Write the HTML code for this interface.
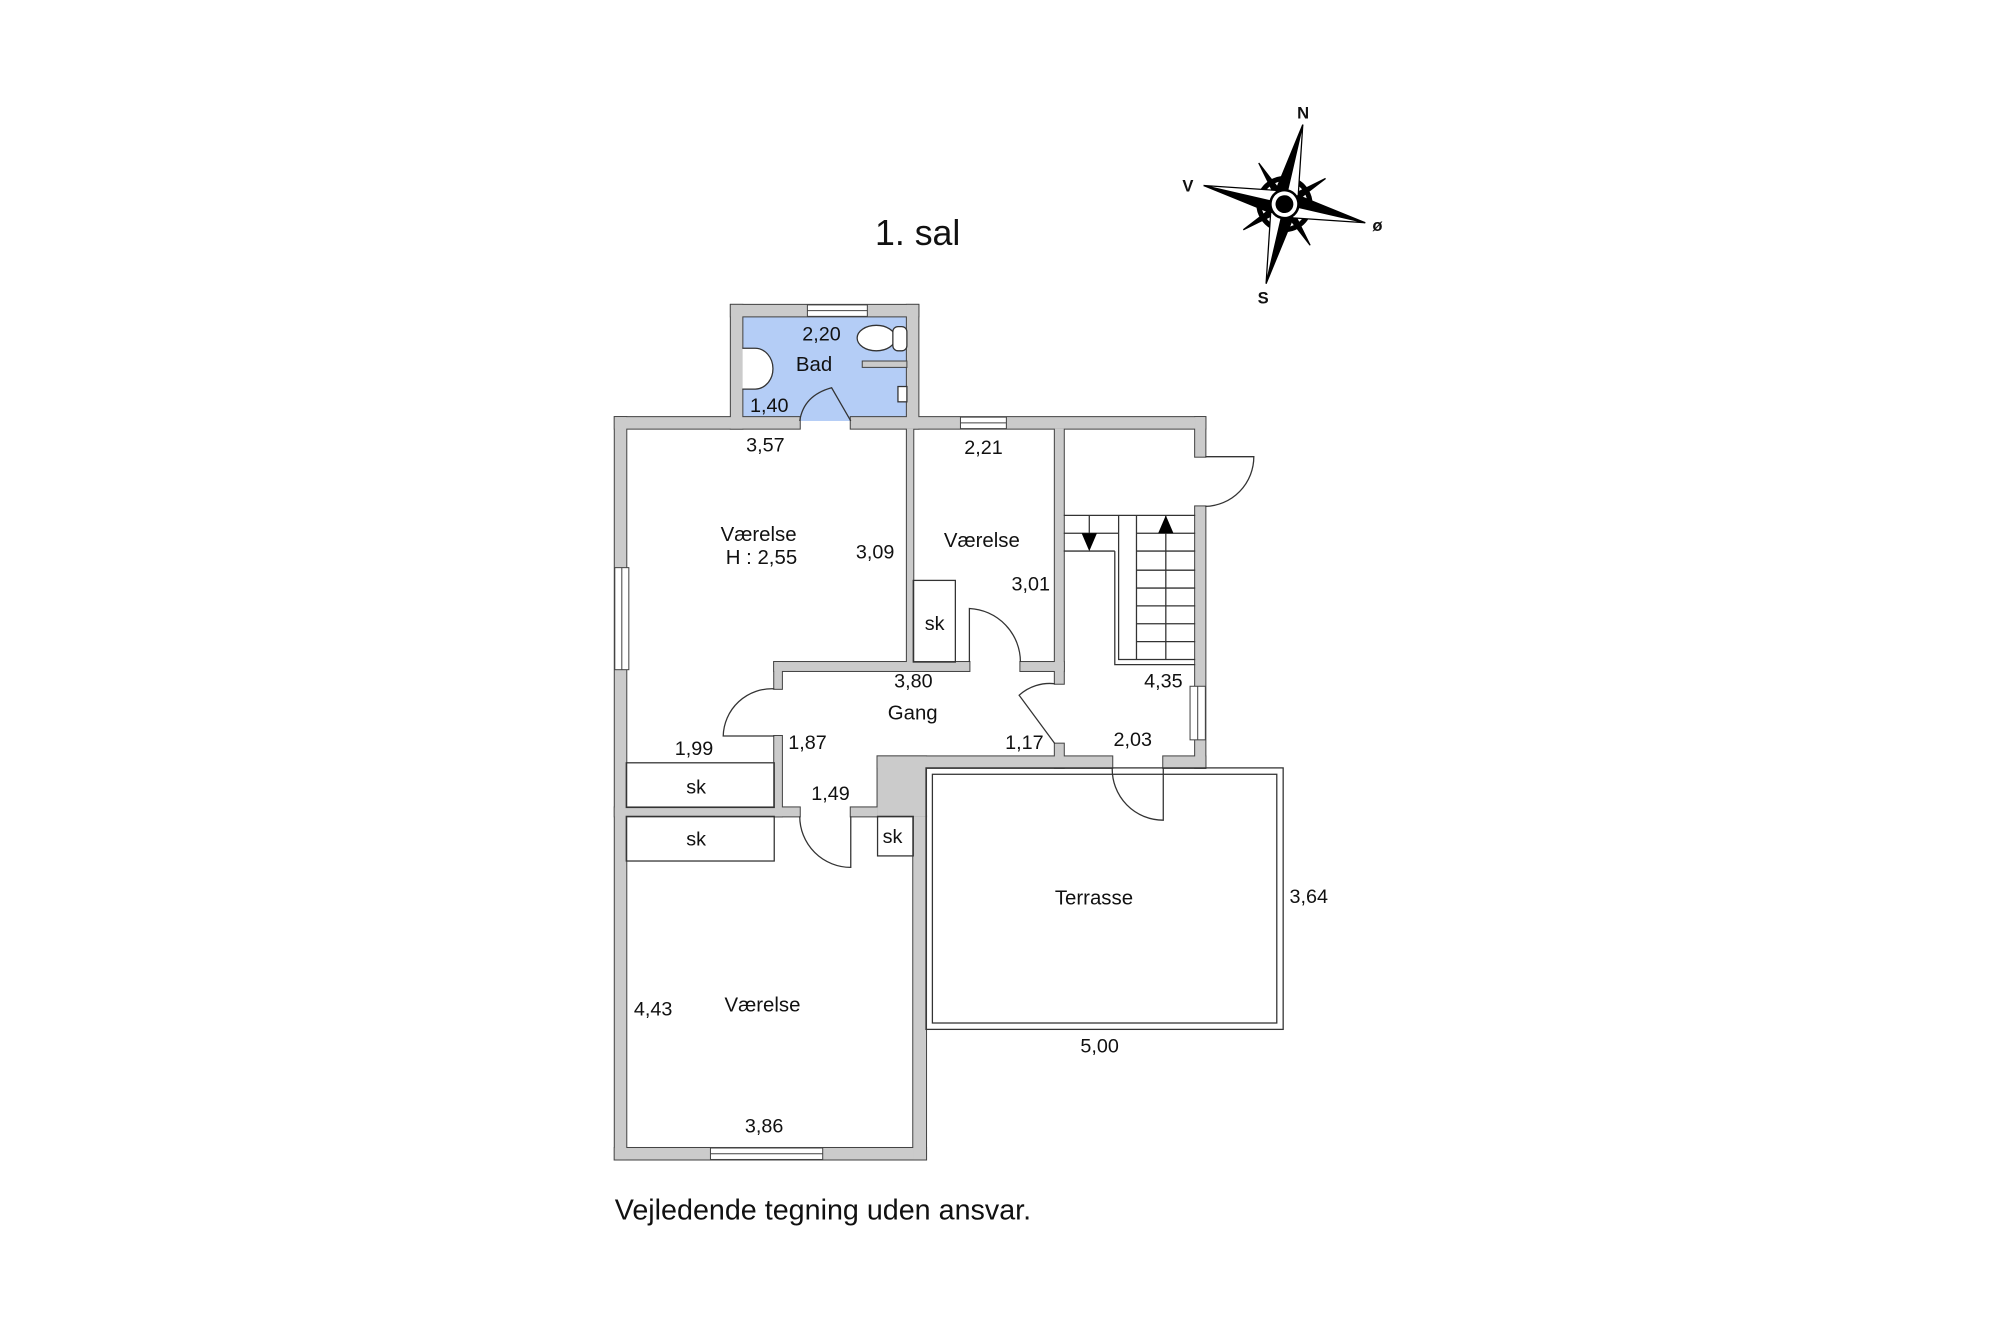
<!DOCTYPE html>
<html><head><meta charset="utf-8"><style>
html,body{margin:0;padding:0;background:#fff}
svg{display:block}
text{font-family:"Liberation Sans",sans-serif;fill:#111}
</style></head><body>
<svg width="2000" height="1333" viewBox="0 0 1568 1045" xmlns="http://www.w3.org/2000/svg">
<defs>
<g id="walls">
<rect x="573" y="239" width="9" height="97"/>
<rect x="573" y="239" width="147" height="9"/>
<rect x="711" y="239" width="9" height="97"/>
<rect x="482" y="327" width="145" height="9"/>
<rect x="667" y="327" width="278" height="9"/>
<rect x="937" y="327" width="8" height="31"/>
<rect x="937" y="397" width="8" height="205"/>
<rect x="482" y="327" width="9" height="582"/>
<rect x="482" y="900" width="244" height="9"/>
<rect x="716" y="640" width="10" height="269"/>
<rect x="688" y="593" width="38" height="47"/>
<rect x="688" y="593" width="184" height="9"/>
<rect x="912" y="593" width="33" height="9"/>
<rect x="711" y="336" width="5" height="187"/>
<rect x="827" y="336" width="7" height="200"/>
<rect x="827" y="583" width="7" height="19"/>
<rect x="607" y="519" width="153" height="7"/>
<rect x="800" y="519" width="34" height="7"/>
<rect x="607" y="519" width="6" height="21"/>
<rect x="607" y="577" width="6" height="63"/>
<rect x="482" y="633" width="145" height="7"/>
<rect x="667" y="633" width="21" height="7"/>
</g>
</defs>
<rect width="1568" height="1045" fill="#fff"/>
<rect x="582" y="248" width="129" height="82" fill="#b4cdf6"/>
<use href="#walls" fill="#444" stroke="#444" stroke-width="1.6"/>
<use href="#walls" fill="#cbcbcb"/>
<rect x="676" y="283" width="35" height="5" fill="#cbcbcb" stroke="#444" stroke-width="0.8"/>
<g fill="#fff" stroke="#444" stroke-width="0.8">
<rect x="633" y="239" width="47" height="9"/><line x1="633" y1="243.5" x2="680" y2="243.5"/>
<rect x="753" y="327" width="36" height="9"/><line x1="753" y1="331.5" x2="789" y2="331.5"/>
<rect x="557" y="900" width="88" height="9"/><line x1="557" y1="904.5" x2="645" y2="904.5"/>
<rect x="482" y="445" width="11" height="80"/><line x1="487.5" y1="445" x2="487.5" y2="525"/>
<rect x="933" y="538" width="12" height="42"/><line x1="939" y1="538" x2="939" y2="580"/>
</g>
<g fill="none" stroke="#333" stroke-width="1">
<rect x="491" y="598" width="116" height="35"/>
<rect x="491" y="640" width="116" height="35"/>
<rect x="716" y="455" width="33" height="64"/>
<rect x="688" y="640" width="28" height="31"/>
<rect x="726" y="602" width="280" height="205"/>
<rect x="731" y="607" width="270" height="195"/>
<path d="M627 330 Q630 310 652 304 L667 330"/>
<path d="M760 519 L760 477 A42 42 0 0 1 800 519"/>
<path d="M607 577 L567 577 A38 38 0 0 1 607 540"/>
<path d="M827 583 L799 545 A36 36 0 0 1 827 536"/>
<path d="M667 640 L667 680 A40 40 0 0 1 627 640"/>
<path d="M912 602 L912 643 A40 40 0 0 1 872 602"/>
<path d="M945 358 L983 358 A39 39 0 0 1 945 397"/>
<line x1="834" y1="404" x2="937" y2="404"/>
<line x1="834" y1="418" x2="877" y2="418"/>
<line x1="834" y1="432" x2="874" y2="432"/>
<polyline points="874,432 874,521 937,521"/>
<polyline points="877,404 877,517 937,517"/>
<line x1="891" y1="404" x2="891" y2="517"/>
<line x1="914" y1="404" x2="914" y2="517"/>
<line x1="854" y1="404" x2="854" y2="418"/>
<line x1="891" y1="418" x2="937" y2="418"/>
<line x1="891" y1="432" x2="937" y2="432"/>
<line x1="891" y1="447" x2="937" y2="447"/>
<line x1="891" y1="461" x2="937" y2="461"/>
<line x1="891" y1="475" x2="937" y2="475"/>
<line x1="891" y1="489" x2="937" y2="489"/>
<line x1="891" y1="503" x2="937" y2="503"/>
<ellipse cx="687" cy="265" rx="15" ry="10" fill="#fff"/>
<rect x="700" y="256" width="11" height="19" rx="4" fill="#fff"/>
<path d="M582 273 L592 273 A14 16 0 0 1 592 305 L582 305" fill="#fff"/>
<rect x="704" y="303" width="7" height="12" fill="#fff"/>
</g>
<polygon points="848,418 860,418 854,432" fill="#000"/>
<polygon points="908,418 920,418 914,404" fill="#000"/>
<g transform="translate(1007,160) rotate(13)">
<circle r="20" fill="none" stroke="#000" stroke-width="4"/>
<g stroke="#000" stroke-width="1" fill="#000">
<g transform="rotate(45)"><polygon points="0,-38 3,-8 0,0 -3,-8"/><polygon points="0,38 3,8 0,0 -3,8"/><polygon points="-38,0 -8,3 0,0 -8,-3"/><polygon points="38,0 8,3 0,0 8,-3"/></g>
<polygon points="0,-64 0,0 -9,-9" fill="#000"/><polygon points="0,-64 0,0 9,-9" fill="#fff"/>
<polygon points="0,64 0,0 9,9" fill="#000"/><polygon points="0,64 0,0 -9,9" fill="#fff"/>
<polygon points="-65,0 0,0 -9,9" fill="#000"/><polygon points="-65,0 0,0 -9,-9" fill="#fff"/>
<polygon points="65,0 0,0 9,-9" fill="#000"/><polygon points="65,0 0,0 9,9" fill="#fff"/>
</g>
<circle r="11" fill="#fff" stroke="#000" stroke-width="2"/>
<circle r="7" fill="#000"/>
</g>
<g font-weight="bold" font-size="13">
<text x="1017" y="93">N</text>
<text x="927" y="150">V</text>
<text x="1076" y="181">ø</text>
<text x="986" y="238">S</text>
</g>
<text x="686" y="192" font-size="28">1. sal</text>
<g font-size="15.5">
<text x="629" y="267">2,20</text>
<text x="624" y="291" font-size="16">Bad</text>
<text x="588" y="323">1,40</text>
<text x="585" y="354">3,57</text>
<text x="756" y="356">2,21</text>
<text x="565" y="424" font-size="16">Værelse</text>
<text x="569" y="442" font-size="16">H : 2,55</text>
<text x="671" y="438">3,09</text>
<text x="740" y="429" font-size="16">Værelse</text>
<text x="793" y="463">3,01</text>
<text x="725" y="494">sk</text>
<text x="701" y="539">3,80</text>
<text x="897" y="539">4,35</text>
<text x="696" y="564" font-size="16">Gang</text>
<text x="529" y="592">1,99</text>
<text x="618" y="587">1,87</text>
<text x="788" y="587">1,17</text>
<text x="873" y="585">2,03</text>
<text x="538" y="622">sk</text>
<text x="636" y="627">1,49</text>
<text x="538" y="663">sk</text>
<text x="692" y="661">sk</text>
<text x="827" y="709" font-size="16">Terrasse</text>
<text x="1011" y="708">3,64</text>
<text x="497" y="796">4,43</text>
<text x="568" y="793" font-size="16">Værelse</text>
<text x="847" y="825">5,00</text>
<text x="584" y="888">3,86</text>
</g>
<text x="482" y="956" font-size="22.5">Vejledende tegning uden ansvar.</text>
</svg>
</body></html>
